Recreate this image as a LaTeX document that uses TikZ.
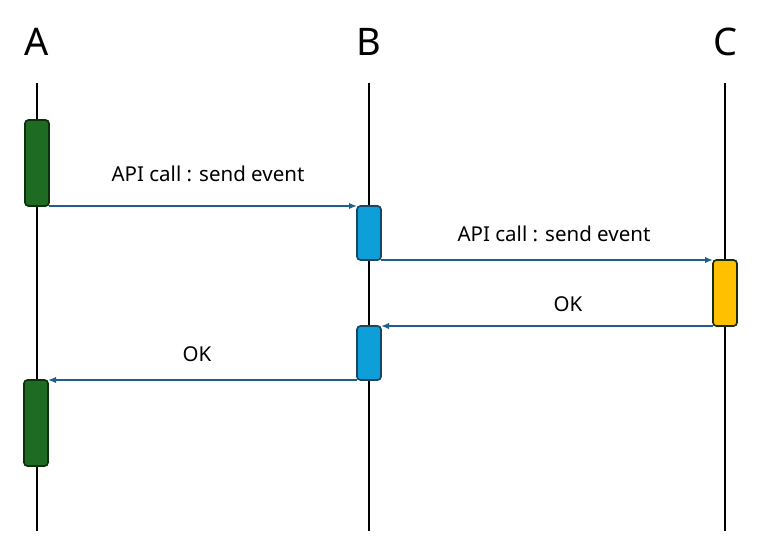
\documentclass[tikz,border=0pt]{standalone}
\usepackage{fontspec}
\setmainfont{Noto Sans}
\usetikzlibrary{arrows.meta}

\definecolor{actgreen}{RGB}{30,107,36}
\definecolor{actgreenline}{RGB}{12,48,12}
\definecolor{actblue}{RGB}{14,158,216}
\definecolor{actblueline}{RGB}{24,70,100}
\definecolor{actyellow}{RGB}{255,192,0}
\definecolor{actyellowline}{RGB}{24,44,16}
\definecolor{msgblue}{RGB}{31,95,139}

\begin{document}
\begin{tikzpicture}[x=1pt,y=-1pt]
   \tikzstyle{every node}=[inner sep=0pt, outer sep=0pt]
   \tikzstyle{lifeline}=[draw=black, line width=1.8pt]
   \tikzstyle{actor}=[font=\fontsize{38}{40}\selectfont]
   \tikzstyle{activation}=[draw, rectangle, rounded corners=3.5pt, line width=1.7pt, minimum width=24pt]
   \tikzstyle{message}=[draw=msgblue, line width=1.6pt, -{Latex[length=8pt,width=6.5pt]}]
   \tikzstyle{msglabel}=[font=\fontsize{20.5}{24}\selectfont]

\useasboundingbox (0,0) rectangle (768,553);

% lifelines
\coordinate (atop) at (37,83);   \coordinate (abot) at (37,531);
\coordinate (btop) at (369,83);  \coordinate (bbot) at (369,531);
\coordinate (ctop) at (725,83);  \coordinate (cbot) at (725,531);
\draw[lifeline] (atop) -- (abot);
\draw[lifeline] (btop) -- (bbot);
\draw[lifeline] (ctop) -- (cbot);

\node[actor] (nameA) at (37,42) {A};
\node[actor] (nameB) at (369,42) {B};
\node[actor] (nameC) at (725,42) {C};

% activation boxes
\node[activation, fill=actgreen, draw=actgreenline, minimum height=86pt] (a1) at (37,163) {};
\node[activation, fill=actblue, draw=actblueline, minimum height=54pt] (b1) at (369,233) {};
\node[activation, fill=actyellow, draw=actyellowline, minimum height=66pt] (c1) at (725,293) {};
\node[activation, fill=actblue, draw=actblueline, minimum height=54pt] (b2) at (369,353) {};
\node[activation, fill=actgreen, draw=actgreenline, minimum height=86pt] (a2) at (36,423) {};

% messages
\draw[message] (a1.south east) -- (b1.north west);
\draw[message] (b1.south east) -- (c1.north west);
\draw[message] (c1.south west) -- (b2.north east);
\draw[message] (b2.south west) -- (a2.north east);

\node[msglabel] (lab1) at (208,174) {API call : send event};
\node[msglabel] (lab2) at (554,234) {API call : send event};
\node[msglabel] (lab3) at (568,304) {OK};
\node[msglabel] (lab4) at (197,354) {OK};

\end{tikzpicture}
\end{document}
